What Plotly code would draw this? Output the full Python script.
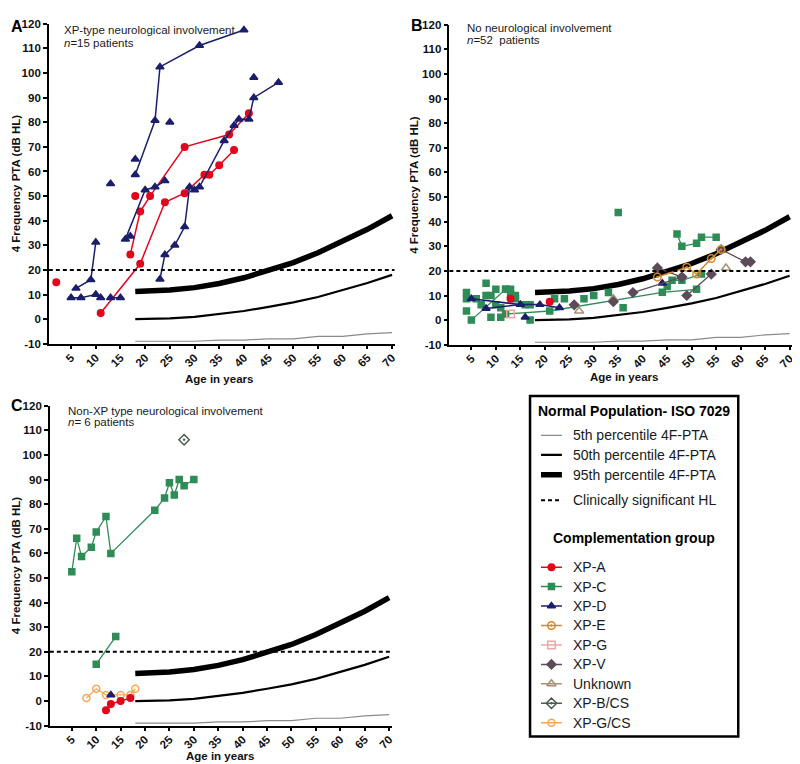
import plotly.graph_objects as go

W, H = 800, 764
FONT = "Liberation Sans, Arial, Helvetica, sans-serif"

# ---------------- data ----------------
ISO_AGES = [18, 20, 25, 30, 35, 40, 45, 50, 55, 60, 65, 70]
P5 = [-9, -9, -9, -9, -8.5, -8.5, -8, -8, -7, -7, -6, -5.5]
P50 = [0, 0, 0.3, 0.9, 2.0, 3.3, 5.0, 6.8, 9.0, 11.7, 14.7, 18]
P95 = [11.2, 11.3, 11.8, 12.8, 14.5, 16.8, 19.7, 23.0, 27.0, 31.5, 36.5, 42]
HL_THRESHOLD = 20
AGE_TICKS = [5, 10, 15, 20, 25, 30, 35, 40, 45, 50, 55, 60, 65, 70]
PTA_TICKS = [-10, 0, 10, 20, 30, 40, 50, 60, 70, 80, 90, 100, 110, 120]

# Panel A: XP-type neurological involvement (one inner list per patient)
A_XPA_AGE = [[2], [18], [11, 19, 24, 28, 32, 33, 35, 38], [17, 19, 21, 28, 37, 41]]
A_XPA_PTA = [[15], [50], [2.5, 22.5, 47.5, 51.2, 58.7, 58.7, 62.5, 68.7], [26.3, 43.7, 50, 70, 75, 83.7]]
A_XPD_AGE = [[6, 9, 10], [5, 7, 10, 11], [13, 15], [13], [16, 20, 22, 24], [17],
             [18, 22, 23, 31, 40], [18], [25],
             [23, 24, 26, 28, 29, 30, 31, 36, 38, 39, 41, 42, 47], [42]]
A_XPD_PTA = [[12.5, 16, 31.2], [8.7, 8.7, 10, 8.7], [8.7, 8.7], [55], [32.5, 52.5, 53.7, 56.2], [33.7],
             [58.7, 80.7, 102.5, 111.2, 117.5], [65], [80],
             [16.2, 26.2, 30, 37.5, 53.7, 52.5, 53.7, 72.5, 78.7, 81.2, 81.2, 90, 96.2], [98.2]]

# Panel B: no neurological involvement
B_XPA_AGE = [[13], [21]]
B_XPA_PTA = [[8.7], [7.5]]
B_XPC_AGE = [[5, 12], [12, 21, 44, 51], [45, 46, 48, 52], [47, 48, 51, 52, 55],
             [4], [4], [4], [6], [7], [8], [8], [9], [9], [10], [10], [11], [11], [12], [13], [13],
             [14], [14], [16], [17], [17], [22], [24], [28], [30], [33], [35], [36]]
B_XPC_PTA = [[0, 12.5], [2.5, 3.7, 11.3, 12.5], [13.7, 16.2, 16.2, 18.7], [35, 30, 31.2, 33.7, 33.7],
             [11.2], [8.7], [3.7], [8.7], [6.2], [15], [10], [10], [1.2], [12.5], [6.2], [5], [1.2],
             [12.5], [12.5], [10.5], [10], [8.7], [6.2], [6.2], [0], [8.7], [8.7], [8.7], [10], [11.2],
             [43.7], [5]]
B_XPD_AGE = [[5, 15, 19, 23], [8, 15], [16], [44]]
B_XPD_PTA = [[8.7, 6.3, 6.3, 5], [4.7, 6.3], [1.2], [15]]
B_XPE_AGE = [[43, 49, 51, 54, 56]]
B_XPE_PTA = [[17.5, 21.5, 18.7, 25, 28.7]]
B_XPG_AGE = [[13]]
B_XPG_PTA = [[2.5]]
B_XPV_AGE = [[26], [34], [38, 48], [43, 48], [49, 54], [56, 61, 62]]
B_XPV_PTA = [[6.2], [7.5], [11.2, 17.5], [21.2, 17.5], [10, 18.7], [28.7, 23.7, 23.7]]
B_UNK_AGE = [[27], [34], [57]]
B_UNK_PTA = [[3.7], [8.7], [21.2]]

# Panel C: non-XP type neurological involvement
C_XPA_AGE = [[12, 13, 15, 17]]
C_XPA_PTA = [[-3.7, -1.2, 0, 1.2]]
C_XPC_AGE = [[5, 6, 7, 9, 10, 12, 13, 22, 24, 25, 26, 27, 28, 30], [10, 14]]
C_XPC_PTA = [[52.5, 66.2, 58.7, 62.5, 68.7, 75, 60, 77.5, 82.5, 88.7, 83.7, 90, 87.5, 90], [15, 26.2]]
C_XPD_AGE = [[13]]
C_XPD_PTA = [[2.5]]
C_XPBCS_AGE = [[28]]
C_XPBCS_PTA = [[106.2]]
C_XPGCS_AGE = [[8, 10, 12, 15, 17, 18]]
C_XPGCS_PTA = [[1.2, 5, 2.5, 2.5, 2.5, 5]]

GROUPS = ["XP-A", "XP-C", "XP-D", "XP-E", "XP-G", "XP-V", "Unknown", "XP-B/CS", "XP-G/CS"]
PERCENTILE_NAMES = ["5th percentile 4F-PTA", "50th percentile 4F-PTA", "95th percentile 4F-PTA"]

# ---------------- styles ----------------
STYLE = {
    "XP-A": dict(color="#e2061c", symbol="circle", size=6.5, lw=1.5),
    "XP-C": dict(color="#2f8c57", symbol="square", size=6, lw=1.3),
    "XP-D": dict(color="#1b1f6b", symbol="triangle-up", size=7, lw=1.5),
    "XP-E": dict(color="#d2892e", symbol="circle-open-dot", size=7.5, lw=1.5),
    "XP-G": dict(color="#f0a5a5", symbol="square-open", size=7.5, lw=1.5),
    "XP-V": dict(color="#5d4b59", symbol="diamond", size=7, lw=1.3),
    "Unknown": dict(color="#a89272", symbol="triangle-up-open", size=8, lw=1.3),
    "XP-B/CS": dict(color="#4c5c4e", symbol="diamond-open-dot", size=8, lw=1.3),
    "XP-G/CS": dict(color="#f5a857", symbol="circle-open", size=7, lw=1.3),
}

PANELS = [
    dict(ax="x", ay="y", xdom=(41, 388), ydom=(10, 335),
         series=[("XP-A", A_XPA_AGE, A_XPA_PTA), ("XP-D", A_XPD_AGE, A_XPD_PTA)]),
    dict(ax="x2", ay="y2", xdom=(443, 787), ydom=(11, 336),
         series=[("XP-C", B_XPC_AGE, B_XPC_PTA), ("XP-A", B_XPA_AGE, B_XPA_PTA),
                 ("XP-D", B_XPD_AGE, B_XPD_PTA), ("XP-G", B_XPG_AGE, B_XPG_PTA),
                 ("Unknown", B_UNK_AGE, B_UNK_PTA), ("XP-V", B_XPV_AGE, B_XPV_PTA),
                 ("XP-E", B_XPE_AGE, B_XPE_PTA)]),
    dict(ax="x3", ay="y3", xdom=(42, 385), ydom=(398, 723),
         series=[("XP-C", C_XPC_AGE, C_XPC_PTA), ("XP-G/CS", C_XPGCS_AGE, C_XPGCS_PTA),
                 ("XP-A", C_XPA_AGE, C_XPA_PTA), ("XP-D", C_XPD_AGE, C_XPD_PTA),
                 ("XP-B/CS", C_XPBCS_AGE, C_XPBCS_PTA)]),
]

BOX = (524, 388, 733, 734)


def flat(lists):
    out = []
    for i, l in enumerate(lists):
        if i:
            out.append(None)
        out.extend(l)
    return out


def px(x):
    return x / W


def py(y):
    return 1 - y / H


fig = go.Figure()
layout_axes = {}
shapes = []

for i, p in enumerate(PANELS):
    xa, ya = p["ax"], p["ay"]
    sfx = xa[1:]
    # ISO 7029 percentile curves
    fig.add_trace(go.Scatter(x=ISO_AGES, y=P5, xaxis=xa, yaxis=ya, mode="lines",
                             line=dict(color="#8a8a8a", width=1.2), showlegend=False, hoverinfo="skip"))
    fig.add_trace(go.Scatter(x=ISO_AGES, y=P50, xaxis=xa, yaxis=ya, mode="lines",
                             line=dict(color="black", width=2.2), showlegend=False, hoverinfo="skip"))
    fig.add_trace(go.Scatter(x=ISO_AGES, y=P95, xaxis=xa, yaxis=ya, mode="lines",
                             line=dict(color="black", width=5.5), showlegend=False, hoverinfo="skip"))
    # clinically significant HL
    shapes.append(dict(type="line", xref=f"x{sfx} domain", yref=f"y{sfx}", x0=0, x1=1,
                       y0=HL_THRESHOLD, y1=HL_THRESHOLD,
                       line=dict(color="black", width=2, dash="4px,3px")))
    for g, ages, ptas in p["series"]:
        s = STYLE[g]
        fig.add_trace(go.Scatter(
            x=flat(ages), y=flat(ptas), xaxis=xa, yaxis=ya, mode="lines+markers", name=g,
            line=dict(color=s["color"], width=s["lw"]),
            marker=dict(symbol=s["symbol"], size=s["size"], color=s["color"],
                        line=dict(color=s["color"], width=1.5)),
            showlegend=False, cliponaxis=False))

    xk = "xaxis" + sfx
    yk = "yaxis" + sfx
    layout_axes[xk] = dict(domain=[px(p["xdom"][0]), px(p["xdom"][1])], anchor=ya,
                           range=[0.5, 70.5], tickvals=AGE_TICKS,
                           ticktext=[f"<b>{t}</b>" for t in AGE_TICKS], tickangle=-45,
                           ticks="outside", ticklen=4, tickwidth=1.5, tickcolor="black",
                           ticklabelstandoff=-3,
                           showline=True, linecolor="black", linewidth=1.5,
                           showgrid=False, zeroline=False,
                           tickfont=dict(family=FONT, size=11.5, color="#111"))
    layout_axes[yk] = dict(domain=[py(p["ydom"][1]), py(p["ydom"][0])], anchor=xa,
                           range=[-10, 120], tickvals=PTA_TICKS,
                           ticktext=[f"<b>{t}</b>" for t in PTA_TICKS],
                           ticks="outside", ticklen=4, tickwidth=1.5, tickcolor="black",
                           showline=True, linecolor="black", linewidth=1.5,
                           showgrid=False, zeroline=False,
                           tickfont=dict(family=FONT, size=11.5, color="#111"))

# ---------------- custom legend (own hidden axes, covering only the legend box) ----------------
layout_axes["xaxis4"] = dict(domain=[px(BOX[0]), px(BOX[2])], range=[BOX[0], BOX[2]],
                             visible=False, fixedrange=True, anchor="y4")
layout_axes["yaxis4"] = dict(domain=[py(BOX[3]), py(BOX[1])], range=[BOX[3], BOX[1]],
                             visible=False, fixedrange=True, anchor="x4")

shapes.append(dict(type="rect", xref="paper", yref="paper", x0=px(BOX[0]), x1=px(BOX[2]),
                   y0=py(BOX[3]), y1=py(BOX[1]), line=dict(color="black", width=2.5)))

SX0, SX1, SXM, TX = 535, 556, 545.5, 565
norm_rows = [428, 448, 468]
norm_styles = [("#8a8a8a", 1.2), ("black", 2.2), ("black", 5.5)]
for r, (c, w) in zip(norm_rows, norm_styles):
    fig.add_trace(go.Scatter(x=[SX0, SX1], y=[r, r], xaxis="x4", yaxis="y4", mode="lines",
                             line=dict(color=c, width=w), showlegend=False, hoverinfo="skip"))
HL_ROW = 494
fig.add_trace(go.Scatter(x=[SX0, SX1], y=[HL_ROW, HL_ROW], xaxis="x4", yaxis="y4", mode="lines",
                         line=dict(color="black", width=2, dash="4px,3px"), showlegend=False,
                         hoverinfo="skip"))
grp_rows = [562 + 19.75 * k for k in range(len(GROUPS))]
for g, r in zip(GROUPS, grp_rows):
    s = STYLE[g]
    fig.add_trace(go.Scatter(x=[SX0, SX1], y=[r, r], xaxis="x4", yaxis="y4", mode="lines",
                             line=dict(color=s["color"], width=1.5), showlegend=False,
                             hoverinfo="skip"))
    fig.add_trace(go.Scatter(x=[SXM], y=[r], xaxis="x4", yaxis="y4", mode="markers",
                             marker=dict(symbol=s["symbol"], size=s["size"], color=s["color"],
                                         line=dict(color=s["color"], width=1.5)),
                             showlegend=False, hoverinfo="skip"))

annotations = []


def ann(x, y, text, size, xanchor="left", angle=0, color="#1a1a1a"):
    annotations.append(dict(x=px(x), y=py(y), xref="paper", yref="paper", text=text,
                            showarrow=False, xanchor=xanchor, yanchor="middle", textangle=angle,
                            font=dict(family=FONT, size=size, color=color)))


ann(628.5, 403, "<b>Normal Population- ISO 7029</b>", 14, xanchor="center", color="black")
for r, t in zip(norm_rows, PERCENTILE_NAMES):
    ann(TX, r, t, 14)
ann(TX, HL_ROW, "Clinically significant HL", 14)
ann(628.5, 532, "<b>Complementation group</b>", 14, xanchor="center", color="black")
for r, g in zip(grp_rows, GROUPS):
    ann(TX, r, g, 14)

# panel letters, descriptions, axis titles
ann(1, 13, "<b>A</b>", 16, color="black")
ann(403, 12, "<b>B</b>", 16, color="black")
ann(1, 398, "<b>C</b>", 16, color="black")

ann(54, 16, "XP-type neurological involvement", 11.5)
ann(54, 29, "<i>n</i>=15 patients", 11.5)
ann(459, 14, "No neurological involvement", 11.5)
ann(459, 26, "<i>n</i>=52  patients", 11.5)
ann(58, 403, "Non-XP type neurological involvement", 11.5)
ann(58, 415, "<i>n</i>= 6 patients", 11.5)

YT = "<b>4 Frequency PTA (dB HL)</b>"
ann(8, 172, YT, 11.5, xanchor="center", angle=-90, color="#111")
ann(408, 173, YT, 11.5, xanchor="center", angle=-90, color="#111")
ann(8, 560, YT, 11.5, xanchor="center", angle=-90, color="#111")
ann(212, 371, "<b>Age in years</b>", 11.5, xanchor="center", color="#111")
ann(618, 369, "<b>Age in years</b>", 11.5, xanchor="center", color="#111")
ann(213, 754, "<b>Age in years</b>", 11.5, xanchor="center", color="#111")

fig.update_layout(width=W, height=H, margin=dict(l=0, r=0, t=0, b=0),
                  paper_bgcolor="white", plot_bgcolor="rgba(0,0,0,0)",
                  shapes=shapes, annotations=annotations, showlegend=False,
                  font=dict(family=FONT), **layout_axes)

fig.write_html("out.html")
